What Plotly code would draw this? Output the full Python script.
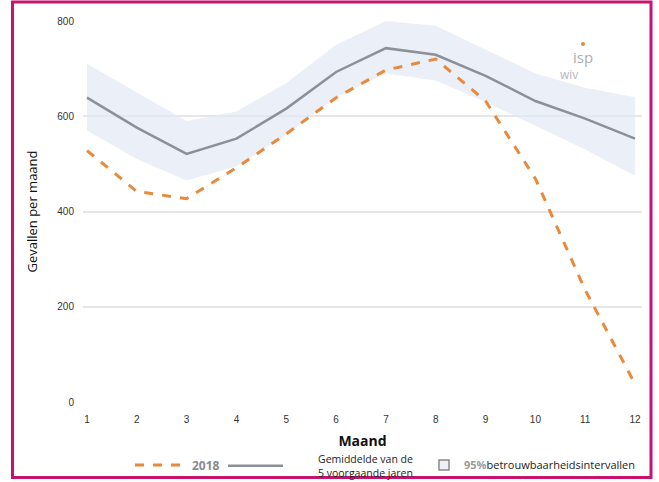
import plotly.graph_objects as go

months = [1, 2, 3, 4, 5, 6, 7, 8, 9, 10, 11, 12]
cases_2018 = [528, 442, 427, 492, 563, 639, 697, 720, 632, 469, 235, 38]
avg_5y = [639, 576, 521, 553, 616, 693, 743, 729, 685, 632, 595, 553]
ci_upper = [710, 650, 590, 610, 670, 750, 800, 790, 740, 690, 660, 640]
ci_lower = [570, 510, 465, 495, 560, 640, 690, 675, 630, 580, 530, 475]
y_ticks = [0, 200, 400, 600, 800]

W, H = 659, 482
L, R, T, B = 83, 17, 21, 80
pw = W - L - R
ph = H - T - B

def px(xp):
    return (xp - L) / pw

def py(yp):
    return (H - B - yp) / ph

NB = "&nbsp;"

fig = go.Figure()

fig.add_trace(go.Scatter(
    x=months + months[::-1],
    y=ci_upper + ci_lower[::-1],
    fill="toself",
    fillcolor="rgba(226,232,243,0.7)",
    line=dict(width=0, color="rgba(0,0,0,0)"),
    mode="lines",
    showlegend=False,
    hoverinfo="skip",
))

fig.add_trace(go.Scatter(
    x=months, y=avg_5y, mode="lines",
    line=dict(color="#8c9199", width=2.5),
    name=NB * 11 + "Gemiddelde van de<br>" + NB * 11 + "5 voorgaande jaren",
    legend="legend2",
))

fig.add_trace(go.Scatter(
    x=months, y=cases_2018, mode="lines",
    line=dict(color="#E8893B", width=3, dash="dash"),
    name="<b style='color:#8a8a8a'>2018</b>",
    legend="legend",
))

# legend entry for the confidence band
fig.add_trace(go.Scatter(
    x=[None], y=[None], mode="markers",
    marker=dict(symbol="square", size=10, color="#eef1f6",
                line=dict(color="#8a8a8a", width=1.5)),
    name="<b style='color:#9a9a9a'>95%</b>betrouwbaarheidsintervallen",
    legend="legend3",
))

leg_common = dict(orientation="h", bgcolor="rgba(0,0,0,0)",
                  xanchor="left", yanchor="middle")

fig.update_layout(
    width=W, height=H,
    margin=dict(l=L, r=R, t=T, b=B, autoexpand=False),
    paper_bgcolor="white",
    plot_bgcolor="white",
    font=dict(family="Open Sans, Liberation Sans, Arial", color="#222"),
    xaxis=dict(
        range=[0.92, 12.14],
        tickmode="array", tickvals=months,
        showgrid=False, zeroline=False, showline=False,
        tickfont=dict(size=10, color="#333", family="Liberation Sans, Arial"),
        ticklabelstandoff=10,
        title=dict(text="<b>Maand</b>", font=dict(size=14, color="#111"), standoff=12),
        automargin=False,
    ),
    yaxis=dict(
        range=[0, 800],
        tickmode="array", tickvals=y_ticks,
        showgrid=True, gridcolor="#e6e6e6", gridwidth=1.5,
        zeroline=False, showline=False,
        tickfont=dict(size=10, color="#333", family="Liberation Sans, Arial"),
        ticklabelstandoff=8,
        title=dict(text="Gevallen per maand", font=dict(size=13, color="#111"), standoff=16),
        automargin=False,
    ),
    legend=dict(**leg_common, x=px(130), y=py(465), itemwidth=52,
                font=dict(size=12, color="#222")),
    legend2=dict(**leg_common, x=px(223), y=py(466), itemwidth=55,
                 font=dict(size=10.5, color="#222")),
    legend3=dict(**leg_common, x=px(424), y=py(465), itemwidth=30,
                 font=dict(size=11, color="#222")),
    showlegend=True,
)

# watermark logo
fig.add_annotation(x=px(583), y=py(57), xref="paper", yref="paper",
                   xanchor="center", yanchor="middle",
                   text="isp", showarrow=False,
                   font=dict(size=15, color="#a9aeb5"))
fig.add_annotation(x=px(569), y=py(74), xref="paper", yref="paper",
                   xanchor="center", yanchor="middle",
                   text="wiv", showarrow=False,
                   font=dict(size=12, color="#b5b9bf"))
fig.add_shape(type="circle", xref="paper", yref="paper",
              x0=px(581), x1=px(585), y0=py(46), y1=py(42),
              line=dict(width=0), fillcolor="#E8893B")

# magenta frame
fig.add_shape(type="rect", xref="paper", yref="paper",
              x0=px(12.5), x1=px(651), y0=py(477.5), y1=py(2),
              line=dict(color="#C8126F", width=3), fillcolor="rgba(0,0,0,0)",
              layer="above")

fig.write_html("out.html", config={"displayModeBar": False},
               post_script="document.body.style.margin='0';")
